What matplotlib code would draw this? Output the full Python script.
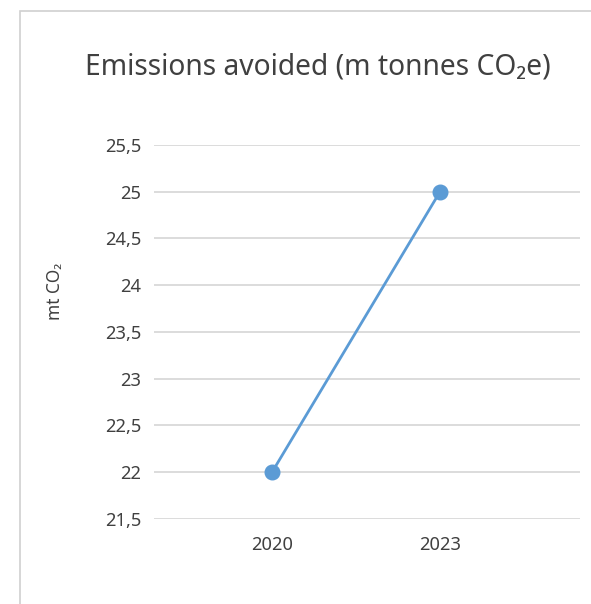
import matplotlib
matplotlib.use("Agg")
import matplotlib.pyplot as plt
from matplotlib.ticker import FuncFormatter
from matplotlib.patches import Rectangle

plt.rcParams['font.family'] = ['Noto Sans', 'DejaVu Sans']

years = [2020, 2023]
emissions_avoided = [22, 25]
y_ticks = [21.5, 22, 22.5, 23, 23.5, 24, 24.5, 25, 25.5]

title = "Emissions avoided (m tonnes CO\u2082e)"
y_label = "mt CO\u2082"

text_color = "#404040"
grid_color = "#d9d9d9"
line_color = "#5b9bd5"

W, H = 591, 604
fig = plt.figure(figsize=(W / 100, H / 100), dpi=100)

# chart frame, cut off at the right and bottom
fig.patches.append(Rectangle((20 / W, -0.1), 1.2, 1.1 - 11 / H,
                             transform=fig.transFigure, fill=False,
                             edgecolor="#d0d0d0", linewidth=1.2))

ax = fig.add_axes([154 / W, (H - 519) / H, (580 - 154) / W, (519 - 145) / H])
ax.plot(years, emissions_avoided, color=line_color, linewidth=2,
        marker="o", markersize=10.5, clip_on=False, zorder=3)

ax.set_ylim(21.5, 25.5)
ax.set_xlim(2020 - 118 / 56, 2023 + 140 / 56)
ax.set_yticks(y_ticks)
ax.set_xticks(years)
ax.yaxis.set_major_formatter(FuncFormatter(
    lambda v, _: (f"{v:g}").replace(".", ",")))

ax.grid(axis="y", color=grid_color, linewidth=1.3)
ax.set_axisbelow(True)
for s in ax.spines.values():
    s.set_visible(False)
ax.tick_params(length=0, colors=text_color, labelsize=13.2)
ax.tick_params(axis="y", pad=9)
ax.tick_params(axis="x", pad=12)

fig.text(55 / W, 1 - 291 / H, y_label, rotation=90, ha="center",
         va="center", color=text_color, fontsize=12.5)
fig.text(318 / W, 1 - 67 / H, title, ha="center", va="center",
         color=text_color, fontsize=20.3)

fig.savefig("out.png", dpi=100)
